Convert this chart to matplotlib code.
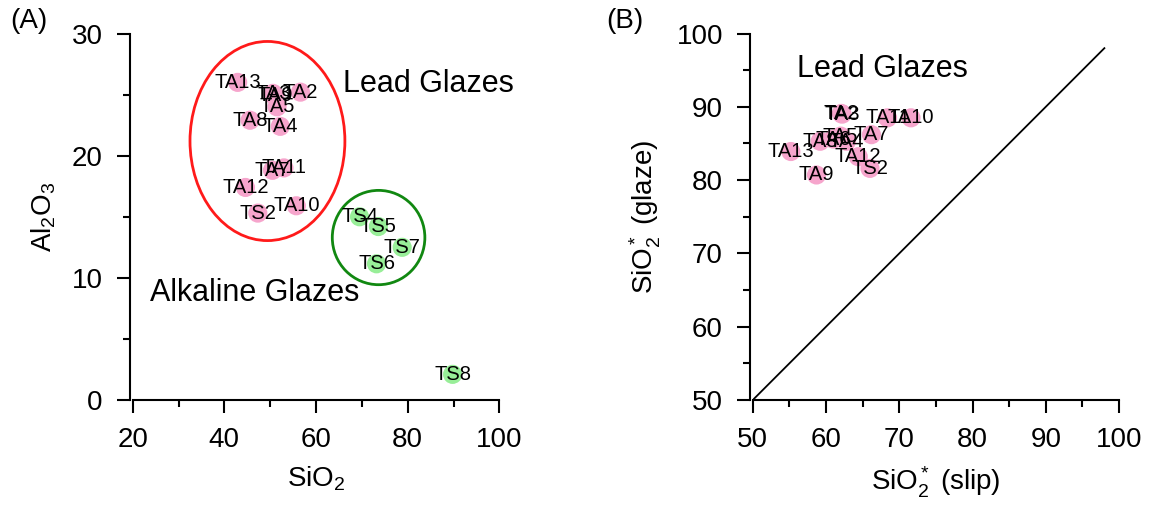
import matplotlib
matplotlib.use("Agg")
import matplotlib.pyplot as plt
from matplotlib.patches import Ellipse
from matplotlib.ticker import MultipleLocator

plt.rcParams['font.family'] = ['Liberation Sans', 'DejaVu Sans']
plt.rcParams['mathtext.fontset'] = 'custom'
plt.rcParams['mathtext.rm'] = 'Liberation Sans'
plt.rcParams['mathtext.it'] = 'Liberation Sans'

# panel A, lead glazes (pink)
lead_labels = ["TA13", "TA2", "TA3", "TA9", "TA5", "TA8", "TA4",
               "TA7", "TA11", "TA12", "TS2", "TA10"]
lead_sio2 = [42.9, 56.6, 50.6, 51.0, 51.5, 45.6, 52.2, 50.5, 53.0, 44.6, 47.3, 55.7]
lead_al2o3 = [26.0, 25.2, 25.1, 24.9, 24.0, 22.9, 22.4, 18.8, 19.0, 17.4, 15.3, 15.9]

# panel A, alkaline glazes (green)
alk_labels = ["TS4", "TS5", "TS7", "TS6", "TS8"]
alk_sio2 = [69.5, 73.6, 78.8, 73.2, 89.8]
alk_al2o3 = [15.0, 14.2, 12.5, 11.15, 2.1]

# panel B, SiO2* slip vs glaze
b_labels = ["TA2", "TA3", "TA11", "TA10", "TA7", "TA8", "TA6", "TA5",
            "TA4", "TA12", "TS2", "TA13", "TA9"]
b_slip = [62.1, 62.2, 68.4, 71.6, 66.2, 59.2, 61.0, 62.0, 62.8, 64.4, 66.0, 55.2, 58.7]
b_glaze = [89.1, 89.0, 88.5, 88.5, 86.2, 85.3, 85.6, 86.0, 85.3, 83.2, 81.6, 83.9, 80.7]

PINK = '#f6a5cc'
GREEN = '#98ee98'
MS = 190
LBL = 14.5
TICK = 20


def style_axes(ax):
    for s in ['top', 'right']:
        ax.spines[s].set_visible(False)
    for s in ['left', 'bottom']:
        ax.spines[s].set_linewidth(1.5)
    ax.spines['left'].set_position(('outward', 2))
    ax.tick_params(which='major', direction='out', length=9.5, width=1.5,
                   labelsize=TICK, pad=10)
    ax.tick_params(which='minor', direction='out', length=5, width=1.5)


fig = plt.figure(figsize=(11.54, 5.07), dpi=100)
axA = fig.add_axes([0.1150, 0.2110, 0.3177, 0.7229])
axB = fig.add_axes([0.6523, 0.2110, 0.3174, 0.7229])

# ---- (A)
axA.scatter(lead_sio2, lead_al2o3, s=MS, color=PINK, edgecolors='none', zorder=2)
axA.scatter(alk_sio2, alk_al2o3, s=MS, color=GREEN, edgecolors='none', zorder=2)
for lab, x, y in zip(lead_labels + alk_labels, lead_sio2 + alk_sio2, lead_al2o3 + alk_al2o3):
    axA.text(x, y, lab, fontsize=LBL, ha='center', va='center', zorder=3)

axA.add_patch(Ellipse((49.4, 21.2), 33.8, 16.3, fill=False, edgecolor='#ff1a1a', lw=2))
axA.add_patch(Ellipse((73.65, 13.3), 20.2, 7.72, fill=False, edgecolor='#118811', lw=2))
axA.text(65.9, 25.9, "Lead Glazes", fontsize=22, ha='left', va='center')
axA.text(23.8, 8.75, "Alkaline Glazes", fontsize=22, ha='left', va='center')

axA.set_xlim(20, 100)
axA.set_ylim(0, 30)
axA.xaxis.set_major_locator(MultipleLocator(20))
axA.xaxis.set_minor_locator(MultipleLocator(10))
axA.yaxis.set_major_locator(MultipleLocator(10))
axA.yaxis.set_minor_locator(MultipleLocator(5))
style_axes(axA)
axA.set_xlabel(r'SiO$_2$', fontsize=20, labelpad=8)
axA.set_ylabel(r'Al$_2$O$_3$', fontsize=20, labelpad=10)

# ---- (B)
axB.plot([50, 98], [50, 98], color='black', lw=1.3, zorder=1)
axB.scatter(b_slip, b_glaze, s=MS, color=PINK, edgecolors='none', zorder=2)
for lab, x, y in zip(b_labels, b_slip, b_glaze):
    axB.text(x, y, lab, fontsize=LBL, ha='center', va='center', zorder=3)
axB.text(56.0, 95.1, "Lead Glazes", fontsize=22, ha='left', va='center')

axB.set_xlim(50, 100)
axB.set_ylim(50, 100)
axB.xaxis.set_major_locator(MultipleLocator(10))
axB.xaxis.set_minor_locator(MultipleLocator(5))
axB.yaxis.set_major_locator(MultipleLocator(10))
axB.yaxis.set_minor_locator(MultipleLocator(5))
style_axes(axB)
axB.set_xlabel(r'SiO$_2^*$ (slip)', fontsize=20, labelpad=8)
axB.set_ylabel(r'SiO$_2^*$ (glaze)', fontsize=20, labelpad=10)

fig.text(10 / 1154, 1 - 21 / 507, "(A)", fontsize=20, ha='left', va='center')
fig.text(606 / 1154, 1 - 21 / 507, "(B)", fontsize=20, ha='left', va='center')

fig.savefig("out.png", dpi=100)
